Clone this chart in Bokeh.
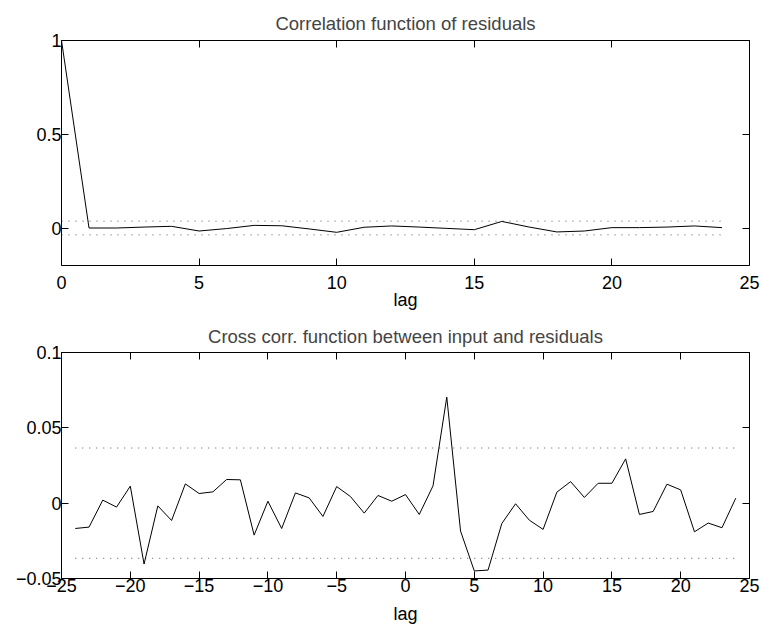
from bokeh.plotting import figure
from bokeh.layouts import column
from bokeh.models import FixedTicker, CustomJSTickFormatter, LinearAxis, Range1d
from bokeh.embed import file_html
from bokeh.resources import INLINE

# ---- data ----
ac_lags = list(range(0, 25))
ac_vals = [1.0, 0.0, 0.0, 0.005, 0.009, -0.016, -0.003, 0.014, 0.012, -0.005,
           -0.023, 0.004, 0.011, 0.005, -0.002, -0.009, 0.035, 0.005, -0.021,
           -0.016, 0.002, 0.002, 0.005, 0.011, 0.002]

cc_lags = list(range(-24, 25))
cc_vals = [-0.0168, -0.0159, 0.0020, -0.0026, 0.0113, -0.0404, -0.0018, -0.0115,
           0.0128, 0.0064, 0.0075, 0.0157, 0.0155, -0.0212, 0.0013, -0.0168,
           0.0068, 0.0035, -0.0088, 0.0110, 0.0044, -0.0066, 0.0051, 0.0013,
           0.0057, -0.0075, 0.0115, 0.0704, -0.0185, -0.0450, -0.0444, -0.0135,
           -0.0004, -0.0113, -0.0174, 0.0073, 0.0143, 0.0038, 0.0132, 0.0132,
           0.0294, -0.0075, -0.0055, 0.0126, 0.0088, -0.0190, -0.0132, -0.0163,
           0.0033]

conf = 0.0366
ac_conf_x = [0, 24]
cc_conf_x = [-24, 24]

ac_xticks = [0, 5, 10, 15, 20, 25]
ac_yticks = [0, 0.5, 1]
cc_xticks = [-25, -20, -15, -10, -5, 0, 5, 10, 15, 20, 25]
cc_yticks = [-0.05, 0, 0.05, 0.1]

title1 = "Correlation function of residuals"
title2 = "Cross corr. function between input and residuals"
xlabel = "lag"

FONT = "Liberation Sans"
FS = "18px"
minus_fmt = "return String(tick).replace('-', '\\u2212');"


def style(p, xticks, yticks, xstandoff, labstandoff, tstandoff):
    p.outline_line_color = "black"
    p.outline_line_width = 1
    p.xgrid.visible = False
    p.ygrid.visible = False
    p.background_fill_color = "white"
    p.border_fill_color = "white"
    p.title.text_font = FONT
    p.title.text_font_size = "18.5px"
    p.title.text_font_style = "normal"
    p.title.align = "center"
    p.title.standoff = tstandoff
    for ax in p.xaxis:
        ax.ticker = FixedTicker(ticks=xticks)
        ax.major_label_standoff = xstandoff
        ax.axis_label_standoff = labstandoff
    for ax in p.yaxis:
        ax.ticker = FixedTicker(ticks=yticks)
        ax.major_label_standoff = 0
    for ax in p.xaxis + p.yaxis:
        ax.formatter = CustomJSTickFormatter(code=minus_fmt)
        ax.axis_line_color = None
        ax.major_tick_in = 7
        ax.major_tick_out = 0
        ax.minor_tick_line_color = None
        ax.major_tick_line_color = "black"
        ax.major_label_text_font = FONT
        ax.major_label_text_font_size = FS
        ax.major_label_text_color = "black"
        ax.axis_label_text_font = FONT
        ax.axis_label_text_font_size = FS
        ax.axis_label_text_font_style = "normal"
        ax.axis_label_text_color = "black"
    # mirrored ticks on top and right (box on)
    top = LinearAxis(ticker=FixedTicker(ticks=xticks),
                     formatter=CustomJSTickFormatter(code="return '';"))
    right = LinearAxis(ticker=FixedTicker(ticks=yticks),
                       formatter=CustomJSTickFormatter(code="return '';"))
    for ax in (top, right):
        ax.axis_line_color = None
        ax.major_tick_in = 7
        ax.major_tick_out = 0
        ax.minor_tick_line_color = None
        ax.major_tick_line_color = "black"
        ax.major_label_standoff = 0
        ax.major_label_text_font_size = "1px"
    p.add_layout(top, "above")
    p.add_layout(right, "right")


p1 = figure(width=760, height=312, output_backend="svg", toolbar_location=None,
            x_range=Range1d(0, 25), y_range=Range1d(-0.2, 1),
            min_border_left=61, min_border_right=11, min_border_top=40,
            min_border_bottom=45, title=title1, x_axis_label=xlabel)
p1.line(ac_conf_x, [conf, conf], line_color="#555555", line_width=1, line_dash="1 6")
p1.line(ac_conf_x, [-conf, -conf], line_color="#555555", line_width=1, line_dash="1 6")
p1.line(ac_lags, ac_vals, line_color="black", line_width=1)
style(p1, ac_xticks, ac_yticks, 10, -2, 14)

p2 = figure(width=760, height=315, output_backend="svg", toolbar_location=None,
            x_range=Range1d(-25, 25), y_range=Range1d(-0.05, 0.1),
            min_border_left=61, min_border_right=11, min_border_top=40,
            min_border_bottom=49, title=title2, x_axis_label=xlabel)
p2.line(cc_conf_x, [conf, conf], line_color="#555555", line_width=1, line_dash="1 6")
p2.line(cc_conf_x, [-conf, -conf], line_color="#555555", line_width=1, line_dash="1 6")
p2.line(cc_lags, cc_vals, line_color="black", line_width=1)
style(p2, cc_xticks, cc_yticks, 0, 9, 11)

layout = column(p1, p2, spacing=0)
html = file_html(layout, INLINE, title="residual analysis")
html = html.replace("</head>",
                    "<style>html,body{overflow:hidden;margin:0;padding:0;}</style></head>", 1)
open("out.html", "w").write(html)
